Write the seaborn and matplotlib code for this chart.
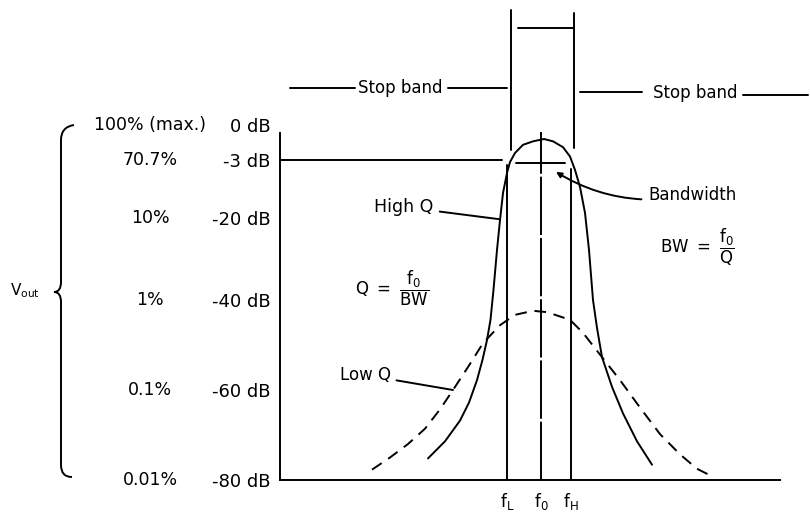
import numpy as np
import matplotlib
matplotlib.use("Agg")
import matplotlib.pyplot as plt
import matplotlib.transforms as mtransforms
from matplotlib.path import Path
from matplotlib.patches import PathPatch
import seaborn as sns

# ---------------- data ----------------
db_levels = [0, -3, -20, -40, -60, -80]
db_labels = ["0 dB", "-3 dB", "-20 dB", "-40 dB", "-60 dB", "-80 dB"]
pct_labels = ["100% (max.)", "70.7%", "10%", "1%", "0.1%", "0.01%"]

freq_marks = [45.4, 52.2, 58.2]            # fL, f0, fH (relative frequency units)
freq_labels = [r"$f_L$", r"$f_0$", r"$f_H$"]

highq_freq = [29.6, 33.0, 36.0, 37.8, 39.4, 40.5, 41.4, 42.1, 42.7, 43.4, 44.0, 44.6,
              45.4, 46.0, 47.0, 48.6, 50.6, 52.8, 54.6, 56.6, 58.0, 59.0, 60.0, 61.0,
              61.8, 62.6, 63.4, 64.4, 66.4, 68.6, 71.4, 74.4]
highq_db = [-75.2, -71.4, -66.8, -62.8, -57.8, -53.3, -48.9, -44.4, -37.5, -27.8, -20.5, -12.7,
            -6.8, -3.6, -2.4, -1.7, -1.4, -1.2, -1.4, -1.9, -2.7, -5.9, -10.9, -18.5,
            -27.8, -40.0, -46.2, -52.7, -59.3, -65.2, -71.4, -76.6]

lowq_freq = [18.4, 22.0, 25.6, 29.0, 32.0, 34.6, 37.6, 40.6, 44.0, 47.0, 50.6, 53.4, 58.0,
             60.6, 64.4, 68.0, 72.0, 76.0, 80.0, 83.4, 86.6]
lowq_db = [-77.7, -75.0, -72.0, -68.6, -64.3, -60.0, -54.9, -49.6, -45.6, -43.3, -42.4, -42.7, -44.4,
           -47.3, -52.7, -57.8, -63.9, -69.8, -74.3, -77.5, -79.3]

halfpower_db = -3
bandwidth_db = -3.8
line_tops_db = [-4.5, -0.6, -5.5]           # top ends of fL, f0, fH lines
stopband_edges = [46.2, 58.8]

# ---------------- layout ----------------
W, H = 810, 512
# schematic (non-linear) dB axis: knot positions in pixel rows
K_DB = np.array([-80, -60, -40, -20, -3, 0], float)
K_POS = np.array([512 - 480, 512 - 390, 512 - 300, 512 - 218, 512 - 160, 512 - 125], float)


def _pw(x, xp, fp):
    x = np.asarray(x, float)
    y = np.interp(x, xp, fp)
    s0 = (fp[1] - fp[0]) / (xp[1] - xp[0])
    s1 = (fp[-1] - fp[-2]) / (xp[-1] - xp[-2])
    y = np.where(x < xp[0], fp[0] + (x - xp[0]) * s0, y)
    y = np.where(x > xp[-1], fp[-1] + (x - xp[-1]) * s1, y)
    return y


def fwd(v):
    return _pw(v, K_DB, K_POS)


def inv(v):
    return _pw(v, K_POS, K_DB)


sns.set_theme(style="white")
plt.rcParams["font.family"] = ["DejaVu Sans"]
plt.rcParams["mathtext.default"] = "regular"

fig = plt.figure(figsize=(W / 100, H / 100), dpi=100)
fig.patch.set_facecolor("white")
ax = fig.add_axes([280 / W, 1 - 480 / H, 500 / W, (480 - 125) / H])
ax.set_facecolor("white")
ax.set_yscale("function", functions=(fwd, inv))
ax.set_xlim(0, 100)
ax.set_ylim(-80, 0)

LW = 1.4
K = "black"

# curves
sns.lineplot(x=highq_freq, y=highq_db, sort=False, estimator=None, color=K, lw=LW, ax=ax)
sns.lineplot(x=lowq_freq, y=lowq_db, sort=False, estimator=None, color=K, lw=LW, ax=ax)
ax.get_lines()[-1].set_linestyle((0, (6, 4)))

# fL, f0, fH lines
for f, top, ls in zip(freq_marks, line_tops_db, ["-", (0, (30, 1.5)), "-"]):
    ax.plot([f, f], [-80, top], color=K, lw=LW, ls=ls, clip_on=False)

# half-power line and bandwidth bar
ax.plot([0, 44.4], [halfpower_db, halfpower_db], color=K, lw=LW, clip_on=False)
ax.plot([47.2, 57.0], [bandwidth_db, bandwidth_db], color=K, lw=LW, clip_on=False)

# axes styling
for s in ["top", "right"]:
    ax.spines[s].set_visible(False)
for s in ["left", "bottom"]:
    ax.spines[s].set_color(K)
    ax.spines[s].set_linewidth(LW)
ax.spines["left"].set_bounds(-80, -0.7)

ax.set_yticks(db_levels)
ax.set_yticklabels(db_labels, fontsize=13)
ax.tick_params(axis="y", direction="in", length=6, width=LW, pad=7, colors=K)
for i, t in enumerate(ax.yaxis.get_major_ticks()):
    if db_levels[i] in (0, -3, -80):
        t.tick1line.set_visible(False)
ax.set_xticks(freq_marks)
ax.set_xticklabels(freq_labels, fontsize=12)
ax.tick_params(axis="x", length=0, pad=8, colors=K)
ax.set_xlabel("")
ax.set_ylabel("")

# percent labels (left column)
T_py = mtransforms.blended_transform_factory(fig.transFigure, ax.transData)
for lvl, lab in zip(db_levels, pct_labels):
    ax.text(150 / W, lvl, lab, transform=T_py, ha="center", va="center", fontsize=12.5, color=K)


def fpx(x, y):
    return (x / W, 1 - y / H)


# brace
brace = [(74, 125), (61, 127), (61, 140), (61, 282), (61, 292), (54, 292),
         (61, 292), (61, 302), (61, 465), (61, 477), (72, 477)]
codes = [Path.MOVETO, Path.CURVE3, Path.CURVE3, Path.LINETO, Path.CURVE3, Path.CURVE3,
         Path.CURVE3, Path.CURVE3, Path.LINETO, Path.CURVE3, Path.CURVE3]
fig.patches.append(PathPatch(Path([fpx(*p) for p in brace], codes), transform=fig.transFigure,
                             fill=False, lw=LW, color=K))
fig.text(*fpx(25, 291), r"$V_{out}$", ha="center", va="center", fontsize=11, color=K)

# stop band markers (x in data, y in figure)
T_xf = mtransforms.blended_transform_factory(ax.transData, fig.transFigure)
sb_left, sb_right = stopband_edges
ax.plot([sb_left, sb_left], [1 - 10 / H, 1 - 150 / H], transform=T_xf, color=K, lw=LW, clip_on=False)
ax.plot([sb_right, sb_right], [1 - 13 / H, 1 - 148 / H], transform=T_xf, color=K, lw=LW, clip_on=False)
ax.plot([sb_left + 1.4, sb_right], [1 - 28 / H] * 2, transform=T_xf, color=K, lw=LW, clip_on=False)

ax.plot([2, 15], [1 - 88 / H] * 2, transform=T_xf, color=K, lw=LW, clip_on=False)
ax.plot([33.6, 45.4], [1 - 88 / H] * 2, transform=T_xf, color=K, lw=LW, clip_on=False)
fig.text(*fpx(400, 88), "Stop band", ha="center", va="center", fontsize=12, color=K)
ax.plot([60, 72.4], [1 - 92 / H] * 2, transform=T_xf, color=K, lw=LW, clip_on=False)
ax.plot([92.6, 105.6], [1 - 95 / H] * 2, transform=T_xf, color=K, lw=LW, clip_on=False)
fig.text(*fpx(695, 93), "Stop band", ha="center", va="center", fontsize=12, color=K)

# labels with leaders
ax.annotate("High Q", xy=(43.9, -20.3), xycoords="data",
            xytext=fpx(404, 207), textcoords="figure fraction", ha="center", va="center",
            fontsize=12.5, color=K, arrowprops=dict(arrowstyle="-", color=K, lw=LW, shrinkA=2, shrinkB=0))
ax.annotate("Low Q", xy=(34.6, -60.0), xycoords="data",
            xytext=fpx(365, 375), textcoords="figure fraction", ha="center", va="center",
            fontsize=12, color=K, arrowprops=dict(arrowstyle="-", color=K, lw=LW, shrinkA=2, shrinkB=0))
ax.annotate("Bandwidth", xy=(55.2, -6.5), xycoords="data",
            xytext=fpx(693, 195), textcoords="figure fraction", ha="center", va="center",
            fontsize=12, color=K,
            arrowprops=dict(arrowstyle="-|>", color=K, lw=LW, shrinkA=3, shrinkB=0,
                            mutation_scale=8, connectionstyle="arc3,rad=-0.2"))

fig.text(*fpx(392, 288), r"$Q\ =\ \dfrac{f_0}{BW}$", ha="center", va="center", fontsize=12, color=K)
fig.text(*fpx(697, 247), r"$BW\ =\ \dfrac{f_0}{Q}$", ha="center", va="center", fontsize=12, color=K)

fig.savefig("out.png", dpi=100, facecolor="white")
